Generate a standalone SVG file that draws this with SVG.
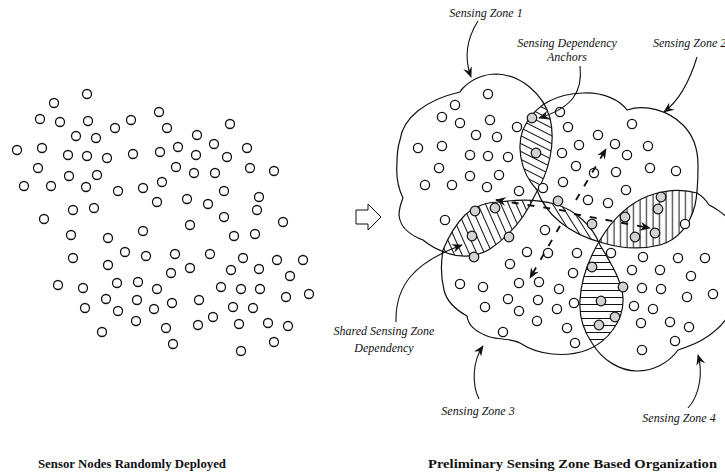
<svg xmlns="http://www.w3.org/2000/svg" width="725" height="476" viewBox="0 0 725 476">
  <style>
    .n { fill: #fff; stroke: #111; stroke-width: 1.3; }
    .g { fill: #d2d2d2; stroke: #111; stroke-width: 1.2; }
    .zone { fill: none; stroke: #111; stroke-width: 1.2; }
    .zfill { fill: #fff; stroke: none; }
    .call { fill: none; stroke: #111; stroke-width: 1.1; }
    .dash { fill: none; stroke: #111; stroke-width: 1.9; stroke-dasharray: 7 9; }
    .lbl { font-family: "Liberation Serif", "Times New Roman", serif; font-style: italic; font-size: 12px; fill: #111; }
    .cap { font-family: "Liberation Serif", "Times New Roman", serif; font-weight: bold; font-size: 13px; fill: #111; }
  </style>
  <defs>
    <!-- sensing zone outlines -->
    <path id="z1" d="M 400,140 C 403,118 425,100 460,92 C 461,90 462,89 463,88 C 472,79 484,74 497,74 C 520,75 543,93 550,118 C 556,143 549,172 535,195 C 527,213 512,234 490,249 C 477,257 460,258 447,253 C 438,250 430,246 423,240 C 412,236 400,228 399,215 C 399,208 401,203 403,198 C 398,188 396,175 397,163 C 397,152 398,146 400,140 Z"/>
    <path id="z2" d="M 537,190 C 520,172 514,142 527,122 C 538,104 555,94 583,93 C 603,92 620,100 627,110 C 645,104 668,110 683,125 C 693,135 698,150 698,165 C 698,180 698,192 695,205 C 690,225 678,240 660,245 C 640,250 620,248 603,243 C 588,239 572,232 560,222 C 549,213 541,202 537,190 Z"/>
    <path id="z3" d="M 443,250 C 448,238 455,225 465,215 C 475,206 488,202 500,202 C 520,199 540,200 555,204 C 575,210 592,225 600,245 C 610,262 622,280 623,298 C 624,320 608,342 587,350 C 565,358 538,355 520,343 C 510,338 500,340 490,337 C 478,333 468,326 467,316 C 458,311 447,303 444,290 C 441,278 441,262 443,250 Z"/>
    <path id="z4" d="M 600,240 C 612,220 628,204 648,196 C 665,190 683,189 697,193 C 702,196 706,200 709,205 C 716,208 722,213 728,218 L 745,225 L 745,312 L 728,316 C 722,326 712,334 702,340 C 695,344 687,347 678,350 C 668,364 652,371 637,371 C 620,371 602,360 592,343 C 583,330 579,315 580,300 C 581,282 588,260 600,240 Z"/>
    <clipPath id="c1"><use href="#z1"/></clipPath>
    <clipPath id="c2"><use href="#z2"/></clipPath>
    <clipPath id="c3"><use href="#z3"/></clipPath>
    <clipPath id="c4"><use href="#z4"/></clipPath>
    <!-- hatching for shared regions -->
    <pattern id="h12" width="10" height="7" patternUnits="userSpaceOnUse" patternTransform="rotate(27)">
      <line x1="0" y1="3.5" x2="10" y2="3.5" stroke="#111" stroke-width="1"/>
    </pattern>
    <pattern id="h13" width="10" height="7" patternUnits="userSpaceOnUse" patternTransform="rotate(66)">
      <line x1="0" y1="3.5" x2="10" y2="3.5" stroke="#111" stroke-width="1"/>
    </pattern>
    <pattern id="h23" width="10" height="7" patternUnits="userSpaceOnUse" patternTransform="rotate(58)">
      <line x1="0" y1="3.5" x2="10" y2="3.5" stroke="#111" stroke-width="1"/>
    </pattern>
    <pattern id="h24" width="6.5" height="10" patternUnits="userSpaceOnUse">
      <line x1="3" y1="0" x2="3" y2="10" stroke="#111" stroke-width="1"/>
    </pattern>
    <pattern id="h34" width="10" height="7" patternUnits="userSpaceOnUse">
      <line x1="0" y1="3.5" x2="10" y2="3.5" stroke="#111" stroke-width="1"/>
    </pattern>
    <marker id="ah" viewBox="0 0 12 10" refX="11" refY="5" markerWidth="11" markerHeight="9" markerUnits="userSpaceOnUse" orient="auto">
      <path d="M0,0 L12,5 L0,10 L4,5 z" fill="#111"/>
    </marker>
  </defs>

  <!-- randomly deployed sensor nodes -->
  <g id="deployed-nodes">
    <circle class="n" cx="87" cy="94" r="4.5"/><circle class="n" cx="54" cy="103" r="4.5"/><circle class="n" cx="40" cy="119" r="4.5"/>
    <circle class="n" cx="60" cy="122" r="4.5"/><circle class="n" cx="88" cy="121" r="4.5"/><circle class="n" cx="115" cy="128" r="4.5"/>
    <circle class="n" cx="131" cy="120" r="4.5"/><circle class="n" cx="76" cy="136" r="4.5"/><circle class="n" cx="96" cy="138" r="4.5"/>
    <circle class="n" cx="17" cy="150" r="4.5"/><circle class="n" cx="42" cy="148" r="4.5"/><circle class="n" cx="68" cy="155" r="4.5"/>
    <circle class="n" cx="87" cy="156" r="4.5"/><circle class="n" cx="107" cy="158" r="4.5"/><circle class="n" cx="133" cy="154" r="4.5"/>
    <circle class="n" cx="38" cy="168" r="4.5"/><circle class="n" cx="69" cy="176" r="4.5"/><circle class="n" cx="97" cy="175" r="4.5"/>
    <circle class="n" cx="24" cy="186" r="4.5"/><circle class="n" cx="51" cy="186" r="4.5"/><circle class="n" cx="86" cy="187" r="4.5"/>
    <circle class="n" cx="118" cy="191" r="4.5"/><circle class="n" cx="143" cy="188" r="4.5"/><circle class="n" cx="73" cy="210" r="4.5"/>
    <circle class="n" cx="94" cy="208" r="4.5"/><circle class="n" cx="44" cy="219" r="4.5"/>
    <circle class="n" cx="159" cy="112" r="4.5"/><circle class="n" cx="167" cy="128" r="4.5"/><circle class="n" cx="230" cy="124" r="4.5"/>
    <circle class="n" cx="197" cy="135" r="4.5"/><circle class="n" cx="178" cy="147" r="4.5"/><circle class="n" cx="214" cy="144" r="4.5"/>
    <circle class="n" cx="160" cy="152" r="4.5"/><circle class="n" cx="196" cy="155" r="4.5"/><circle class="n" cx="227" cy="157" r="4.5"/>
    <circle class="n" cx="247" cy="148" r="4.5"/><circle class="n" cx="176" cy="167" r="4.5"/><circle class="n" cx="194" cy="173" r="4.5"/>
    <circle class="n" cx="215" cy="173" r="4.5"/><circle class="n" cx="250" cy="168" r="4.5"/><circle class="n" cx="274" cy="171" r="4.5"/>
    <circle class="n" cx="162" cy="182" r="4.5"/><circle class="n" cx="224" cy="191" r="4.5"/><circle class="n" cx="259" cy="197" r="4.5"/>
    <circle class="n" cx="157" cy="202" r="4.5"/><circle class="n" cx="187" cy="199" r="4.5"/><circle class="n" cx="208" cy="204" r="4.5"/>
    <circle class="n" cx="257" cy="210" r="4.5"/><circle class="n" cx="224" cy="217" r="4.5"/><circle class="n" cx="283" cy="222" r="4.5"/>
    <circle class="n" cx="71" cy="235" r="4.5"/><circle class="n" cx="108" cy="238" r="4.5"/><circle class="n" cx="143" cy="231" r="4.5"/>
    <circle class="n" cx="73" cy="258" r="4.5"/><circle class="n" cx="108" cy="265" r="4.5"/><circle class="n" cx="125" cy="252" r="4.5"/>
    <circle class="n" cx="146" cy="256" r="4.5"/><circle class="n" cx="58" cy="285" r="4.5"/><circle class="n" cx="83" cy="288" r="4.5"/>
    <circle class="n" cx="117" cy="283" r="4.5"/><circle class="n" cx="138" cy="282" r="4.5"/><circle class="n" cx="157" cy="289" r="4.5"/>
    <circle class="n" cx="106" cy="299" r="4.5"/><circle class="n" cx="137" cy="300" r="4.5"/><circle class="n" cx="154" cy="309" r="4.5"/>
    <circle class="n" cx="85" cy="308" r="4.5"/><circle class="n" cx="118" cy="311" r="4.5"/><circle class="n" cx="136" cy="321" r="4.5"/>
    <circle class="n" cx="102" cy="332" r="4.5"/>
    <circle class="n" cx="190" cy="225" r="4.5"/><circle class="n" cx="234" cy="236" r="4.5"/><circle class="n" cx="255" cy="234" r="4.5"/>
    <circle class="n" cx="175" cy="254" r="4.5"/><circle class="n" cx="210" cy="254" r="4.5"/><circle class="n" cx="243" cy="258" r="4.5"/>
    <circle class="n" cx="277" cy="260" r="4.5"/><circle class="n" cx="303" cy="260" r="4.5"/><circle class="n" cx="171" cy="273" r="4.5"/>
    <circle class="n" cx="190" cy="268" r="4.5"/><circle class="n" cx="231" cy="270" r="4.5"/><circle class="n" cx="259" cy="269" r="4.5"/>
    <circle class="n" cx="290" cy="276" r="4.5"/><circle class="n" cx="221" cy="287" r="4.5"/><circle class="n" cx="241" cy="289" r="4.5"/>
    <circle class="n" cx="260" cy="289" r="4.5"/><circle class="n" cx="286" cy="297" r="4.5"/><circle class="n" cx="309" cy="294" r="4.5"/>
    <circle class="n" cx="172" cy="303" r="4.5"/><circle class="n" cx="199" cy="300" r="4.5"/><circle class="n" cx="233" cy="307" r="4.5"/>
    <circle class="n" cx="253" cy="308" r="4.5"/><circle class="n" cx="213" cy="317" r="4.5"/><circle class="n" cx="198" cy="325" r="4.5"/>
    <circle class="n" cx="239" cy="324" r="4.5"/><circle class="n" cx="268" cy="323" r="4.5"/><circle class="n" cx="288" cy="326" r="4.5"/>
    <circle class="n" cx="166" cy="328" r="4.5"/><circle class="n" cx="173" cy="344" r="4.5"/><circle class="n" cx="274" cy="342" r="4.5"/>
    <circle class="n" cx="241" cy="351" r="4.5"/>
  </g>

  <!-- transition arrow -->
  <g id="transition">
    <polygon points="356,210 368,210 368,204 381,217 368,230 368,224 356,224" fill="#fff" stroke="#111" stroke-width="1"/>
  </g>

  <!-- zone backgrounds -->
  <g id="zone-fills">
    <use href="#z1" class="zfill"/><use href="#z2" class="zfill"/><use href="#z3" class="zfill"/><use href="#z4" class="zfill"/>
  </g>

  <!-- shared (overlapping) regions -->
  <g id="shared-regions">
    <g clip-path="url(#c1)"><rect x="380" y="60" width="345" height="330" fill="url(#h12)" clip-path="url(#c2)"/></g>
    <g clip-path="url(#c1)"><rect x="380" y="60" width="345" height="330" fill="url(#h13)" clip-path="url(#c3)"/></g>
    <g clip-path="url(#c2)"><rect x="380" y="60" width="345" height="330" fill="url(#h23)" clip-path="url(#c3)"/></g>
    <g clip-path="url(#c2)"><rect x="380" y="60" width="345" height="330" fill="url(#h24)" clip-path="url(#c4)"/></g>
    <g clip-path="url(#c3)"><rect x="380" y="60" width="345" height="330" fill="url(#h34)" clip-path="url(#c4)"/></g>
  </g>

  <g id="zone-1"><use href="#z1" class="zone"/></g>
  <g id="zone-2"><use href="#z2" class="zone"/></g>
  <g id="zone-3"><use href="#z3" class="zone"/></g>
  <g id="zone-4"><use href="#z4" class="zone"/></g>

  <!-- nodes organised in zones -->
  <g id="zone-nodes">
    <circle class="n" cx="488" cy="94" r="4.6"/><circle class="n" cx="455" cy="105" r="4.6"/><circle class="n" cx="442" cy="117" r="4.6"/>
    <circle class="n" cx="460" cy="123" r="4.6"/><circle class="n" cx="490" cy="120" r="4.6"/><circle class="n" cx="517" cy="127" r="4.6"/>
    <circle class="n" cx="476" cy="135" r="4.6"/><circle class="n" cx="497" cy="137" r="4.6"/><circle class="n" cx="418" cy="148" r="4.6"/>
    <circle class="n" cx="442" cy="146" r="4.6"/><circle class="n" cx="470" cy="155" r="4.6"/><circle class="n" cx="488" cy="156" r="4.6"/>
    <circle class="n" cx="508" cy="157" r="4.6"/><circle class="n" cx="439" cy="168" r="4.6"/><circle class="n" cx="470" cy="176" r="4.6"/>
    <circle class="n" cx="499" cy="175" r="4.6"/><circle class="n" cx="425" cy="185" r="4.6"/><circle class="n" cx="452" cy="185" r="4.6"/>
    <circle class="n" cx="487" cy="187" r="4.6"/><circle class="n" cx="519" cy="191" r="4.6"/><circle class="n" cx="543" cy="188" r="4.6"/>
    <circle class="n" cx="445" cy="220" r="4.6"/>
    <circle class="n" cx="560" cy="112" r="4.6"/><circle class="n" cx="568" cy="127" r="4.6"/><circle class="n" cx="632" cy="124" r="4.6"/>
    <circle class="n" cx="598" cy="135" r="4.6"/><circle class="n" cx="615" cy="144" r="4.6"/><circle class="n" cx="579" cy="145" r="4.6"/>
    <circle class="n" cx="648" cy="146" r="4.6"/><circle class="n" cx="562" cy="153" r="4.6"/><circle class="n" cx="627" cy="155" r="4.6"/>
    <circle class="n" cx="576" cy="166" r="4.6"/><circle class="n" cx="616" cy="172" r="4.6"/><circle class="n" cx="650" cy="168" r="4.6"/>
    <circle class="n" cx="676" cy="171" r="4.6"/><circle class="n" cx="594" cy="173" r="4.6"/><circle class="n" cx="563" cy="182" r="4.6"/>
    <circle class="n" cx="626" cy="190" r="4.6"/><circle class="n" cx="588" cy="200" r="4.6"/><circle class="n" cx="608" cy="203" r="4.6"/>
    <circle class="n" cx="685" cy="224" r="4.6"/>
    <circle class="n" cx="545" cy="230" r="4.6"/><circle class="n" cx="527" cy="252" r="4.6"/><circle class="n" cx="548" cy="253" r="4.6"/>
    <circle class="n" cx="577" cy="253" r="4.6"/><circle class="n" cx="510" cy="264" r="4.6"/><circle class="n" cx="460" cy="284" r="4.6"/>
    <circle class="n" cx="483" cy="287" r="4.6"/><circle class="n" cx="485" cy="307" r="4.6"/><circle class="n" cx="508" cy="299" r="4.6"/>
    <circle class="n" cx="519" cy="283" r="4.6"/><circle class="n" cx="539" cy="282" r="4.6"/><circle class="n" cx="573" cy="273" r="4.6"/>
    <circle class="n" cx="559" cy="289" r="4.6"/><circle class="n" cx="519" cy="311" r="4.6"/><circle class="n" cx="537" cy="321" r="4.6"/>
    <circle class="n" cx="538" cy="300" r="4.6"/><circle class="n" cx="557" cy="309" r="4.6"/><circle class="n" cx="574" cy="303" r="4.6"/>
    <circle class="n" cx="567" cy="328" r="4.6"/><circle class="n" cx="503" cy="332" r="4.6"/><circle class="n" cx="575" cy="343" r="4.6"/>
    <circle class="n" cx="611" cy="253" r="4.6"/>
    <circle class="n" cx="643" cy="257" r="4.6"/><circle class="n" cx="632" cy="270" r="4.6"/><circle class="n" cx="660" cy="270" r="4.6"/>
    <circle class="n" cx="678" cy="258" r="4.6"/><circle class="n" cx="705" cy="258" r="4.6"/><circle class="n" cx="691" cy="276" r="4.6"/>
    <circle class="n" cx="642" cy="288" r="4.6"/><circle class="n" cx="661" cy="289" r="4.6"/><circle class="n" cx="687" cy="297" r="4.6"/>
    <circle class="n" cx="713" cy="294" r="4.6"/><circle class="n" cx="634" cy="306" r="4.6"/><circle class="n" cx="653" cy="309" r="4.6"/>
    <circle class="n" cx="641" cy="323" r="4.6"/><circle class="n" cx="670" cy="322" r="4.6"/><circle class="n" cx="689" cy="327" r="4.6"/>
    <circle class="n" cx="675" cy="341" r="4.6"/><circle class="n" cx="642" cy="350" r="4.6"/>
  </g>

  <!-- dependency anchor nodes -->
  <g id="anchor-nodes">
    <circle class="g" cx="532" cy="118" r="4.8"/><circle class="g" cx="536" cy="153" r="4.8"/>
    <circle class="g" cx="475" cy="211" r="4.8"/><circle class="g" cx="495" cy="208" r="4.8"/><circle class="g" cx="472" cy="236" r="4.8"/>
    <circle class="g" cx="509" cy="237" r="4.8"/><circle class="g" cx="474" cy="257" r="4.8"/>
    <circle class="g" cx="558" cy="201" r="4.8"/><circle class="g" cx="592" cy="224" r="4.8"/>
    <circle class="g" cx="625" cy="217" r="4.8"/><circle class="g" cx="661" cy="197" r="4.8"/><circle class="g" cx="658" cy="209" r="4.8"/>
    <circle class="g" cx="655" cy="233" r="4.8"/><circle class="g" cx="635" cy="237" r="4.8"/>
    <circle class="g" cx="592" cy="267" r="4.8"/><circle class="g" cx="623" cy="287" r="4.8"/><circle class="g" cx="601" cy="301" r="4.8"/>
    <circle class="g" cx="615" cy="317" r="4.8"/><circle class="g" cx="599" cy="325" r="4.8"/>
  </g>

  <!-- connectors: dependency flows and label leaders -->
  <g id="connectors">
    <path class="dash" d="M 576,200 L 606,149" marker-end="url(#ah)"/>
    <path class="dash" d="M 566,211 L 496,200" marker-end="url(#ah)"/>
    <path class="dash" d="M 574,214 L 650,228" marker-end="url(#ah)"/>
    <path class="dash" d="M 560,226 L 530,278" marker-end="url(#ah)"/>
    <path class="call" d="M 478,21 C 466,40 464,58 471,77" marker-end="url(#ah)"/>
    <path class="call" d="M 580,66 C 583,92 572,108 539,118" marker-end="url(#ah)"/>
    <path class="call" d="M 697,57 C 690,80 680,100 664,112" marker-end="url(#ah)"/>
    <path class="call" d="M 396,322 C 395,285 415,262 462,245" marker-end="url(#ah)"/>
    <path class="call" d="M 479,399 C 472,385 472,362 483,346" marker-end="url(#ah)"/>
    <path class="call" d="M 688,408 C 700,395 703,372 698,355" marker-end="url(#ah)"/>
  </g>

  <g id="labels">
    <text class="lbl" x="486" y="17" text-anchor="middle">Sensing Zone 1</text>
    <text class="lbl" x="567" y="47" text-anchor="middle">Sensing Dependency</text>
    <text class="lbl" x="567" y="61" text-anchor="middle">Anchors</text>
    <text class="lbl" x="653" y="47">Sensing Zone 2</text>
    <text class="lbl" x="384" y="335" text-anchor="middle">Shared Sensing Zone</text>
    <text class="lbl" x="384" y="352" text-anchor="middle">Dependency</text>
    <text class="lbl" x="478" y="415" text-anchor="middle">Sensing Zone 3</text>
    <text class="lbl" x="679" y="422" text-anchor="middle">Sensing Zone 4</text>
    <text class="cap" x="38" y="468" textLength="188" lengthAdjust="spacingAndGlyphs">Sensor Nodes Randomly Deployed</text>
    <text class="cap" x="428" y="468" textLength="289" lengthAdjust="spacingAndGlyphs">Preliminary Sensing Zone Based Organization</text>
  </g>
</svg>
